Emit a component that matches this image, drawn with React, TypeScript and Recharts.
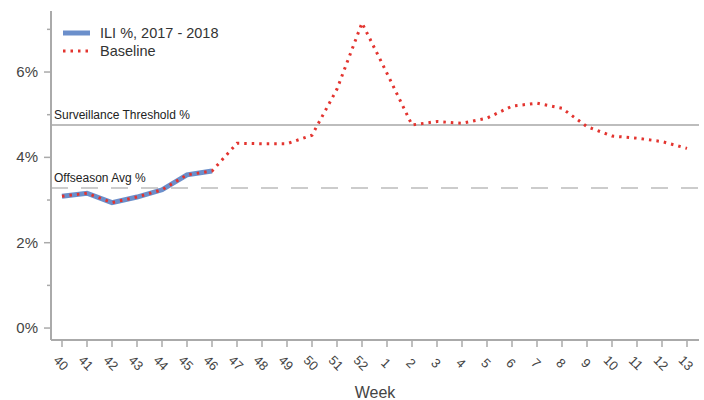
import React from 'react';
import { LineChart, Line, XAxis, YAxis, ReferenceLine, Legend } from 'recharts';

const weeks = ['40','41','42','43','44','45','46','47','48','49','50','51','52','1','2','3','4','5','6','7','8','9','10','11','12','13'];
const iliValues: (number | null)[] = [3.09, 3.16, 2.94, 3.07, 3.24, 3.59, 3.68, null, null, null, null, null, null, null, null, null, null, null, null, null, null, null, null, null, null, null];
const baselineValues = [3.09, 3.16, 2.94, 3.07, 3.24, 3.59, 3.68, 4.33, 4.32, 4.32, 4.52, 5.6, 7.15, 5.97, 4.76, 4.84, 4.8, 4.92, 5.2, 5.27, 5.15, 4.72, 4.5, 4.45, 4.37, 4.21];
const yTicks = [0, 1, 2, 3, 4, 5, 6, 7];
const yLabelled = [0, 2, 4, 6];
const surveillanceThreshold = 4.76;
const offseasonAvg = 3.28;

const ILI_NAME = 'ILI %, 2017 - 2018';
const BASE_NAME = 'Baseline';
const ILI_COLOR = '#6b8fcb';
const BASE_COLOR = '#e3342f';
const AXIS_COLOR = '#aaaaaa';
const FONT = '"Liberation Sans", Arial, sans-serif';

const data = weeks.map((w, i) => ({ week: w, ili: iliValues[i], baseline: baselineValues[i] }));

const YTick = (props: any) => {
  const { x, y, payload } = props;
  const major = yLabelled.includes(payload.value);
  return (
    <g>
      <line x1={x - (major ? 7 : 4)} x2={x} y1={y} y2={y} stroke={AXIS_COLOR} strokeWidth={1.5} />
      {major && (
        <text x={x - 13} y={y} dy={5} textAnchor="end" fontSize={15} fill="#444" fontFamily={FONT}>
          {payload.value + '%'}
        </text>
      )}
    </g>
  );
};

const XTick = (props: any) => {
  const { x, y, payload } = props;
  return (
    <g>
      <line x1={x} x2={x} y1={y} y2={y + 7} stroke={AXIS_COLOR} strokeWidth={1.5} />
      <text
        x={0}
        y={0}
        transform={`translate(${x - 1},${y + 23}) rotate(45)`}
        textAnchor="middle"
        dominantBaseline="central"
        fontSize={13}
        fill="#444"
        fontFamily={FONT}
      >
        {payload.value}
      </text>
    </g>
  );
};

const refLabel = (text: string) => (props: any) => {
  const { viewBox } = props;
  return (
    <text x={viewBox.x + 3} y={viewBox.y - 6} fontSize={12} fill="#222" fontFamily={FONT}>
      {text}
    </text>
  );
};

const legendItems = [
  { name: ILI_NAME, color: ILI_COLOR, width: 5, dash: undefined as string | undefined },
  { name: BASE_NAME, color: BASE_COLOR, width: 3, dash: '2.5 5' },
];

const LegendContent = () => (
  <div style={{ fontFamily: FONT }}>
    {legendItems.map((it) => (
      <div key={it.name} style={{ display: 'flex', alignItems: 'center', height: 18 }}>
        <svg width={38} height={18}>
          <line x1={1} x2={28} y1={9} y2={9} stroke={it.color} strokeWidth={it.width} strokeDasharray={it.dash} />
        </svg>
        <span style={{ fontSize: 14.5, color: '#333' }}>{it.name}</span>
      </div>
    ))}
  </div>
);

export default function App() {
  return (
    <div style={{ position: 'absolute', left: 0, top: 0, width: 704, height: 400, background: '#fff' }}>
      <LineChart width={704} height={400} data={data} margin={{ top: 11, right: 5, left: 0, bottom: 0 }}>
        <XAxis
          dataKey="week"
          interval={0}
          tickSize={0}
          tickMargin={0}
          tick={<XTick />}
          axisLine={{ stroke: AXIS_COLOR, strokeWidth: 2 }}
          padding={{ left: 11, right: 12 }}
          height={60}
          label={{ value: 'Week', position: 'insideBottom', offset: 2, fontSize: 16, fill: '#444', fontFamily: FONT }}
        />
        <YAxis
          type="number"
          domain={[-0.28, 7.43]}
          ticks={yTicks}
          interval={0}
          tickSize={0}
          tickMargin={0}
          width={51}
          tick={<YTick />}
          axisLine={{ stroke: AXIS_COLOR, strokeWidth: 2 }}
          allowDataOverflow
        />
        <ReferenceLine y={surveillanceThreshold} stroke="#bdbdbd" strokeWidth={2} label={refLabel('Surveillance Threshold %')} />
        <ReferenceLine y={offseasonAvg} stroke="#cccccc" strokeWidth={2} strokeDasharray="17 13" label={refLabel('Offseason Avg %')} />
        <Line
          type="linear"
          dataKey="ili"
          name={ILI_NAME}
          stroke={ILI_COLOR}
          strokeWidth={5}
          dot={false}
          isAnimationActive={false}
          connectNulls={false}
        />
        <Line
          type="linear"
          dataKey="baseline"
          name={BASE_NAME}
          stroke={BASE_COLOR}
          strokeWidth={3}
          strokeDasharray="2.5 5"
          dot={false}
          isAnimationActive={false}
        />
        <Legend
          layout="vertical"
          align="center"
          verticalAlign="middle"
          content={<LegendContent />}
          wrapperStyle={{ position: 'absolute', left: 62, top: 24, width: 200 }}
        />
      </LineChart>
    </div>
  );
}
